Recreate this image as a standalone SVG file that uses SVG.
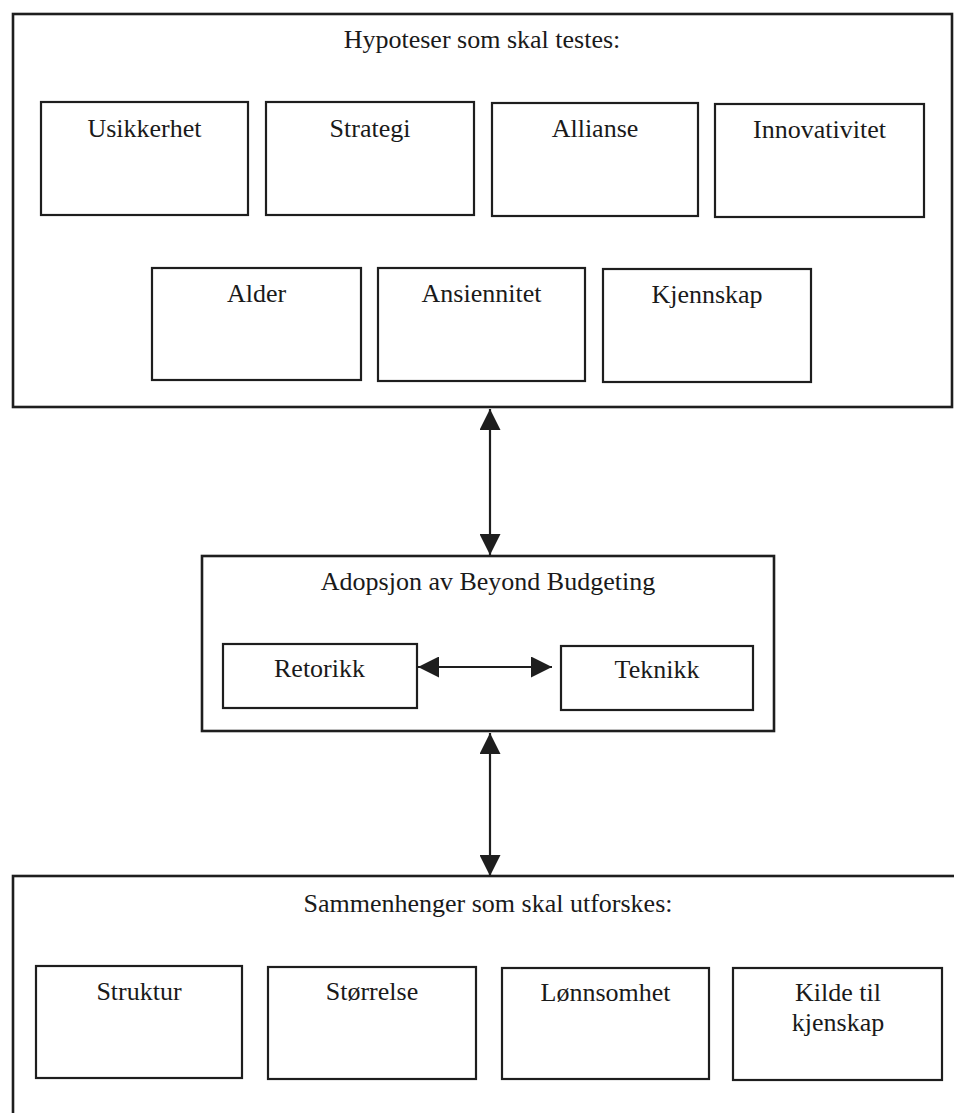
<svg xmlns="http://www.w3.org/2000/svg" width="954" height="1113" viewBox="0 0 954 1113">
<style>
  .box{fill:none;stroke:#1e1e1e;stroke-width:2.2}
  .outer{fill:none;stroke:#1e1e1e;stroke-width:2.6}
  .t{font-family:"Liberation Serif","Times New Roman",serif;font-size:26px;fill:#1a1a1a;text-anchor:middle}
  .conn{stroke:#1e1e1e;stroke-width:2.2;fill:none}
</style>
<defs>
  <marker id="ah" viewBox="0 0 20 20" refX="20" refY="10" markerWidth="21" markerHeight="21" markerUnits="userSpaceOnUse" orient="auto-start-reverse">
    <path d="M0,0 L20,10 L0,20 z" fill="#1e1e1e"/>
  </marker>
</defs>
<rect width="954" height="1113" fill="#ffffff"/>

<g id="hypoteser">
  <rect class="outer" x="13" y="14" width="939" height="393"/>
  <text class="t" x="482" y="48">Hypoteser som skal testes:</text>
</g>
<g id="usikkerhet"><rect class="box" x="41" y="102" width="207" height="113"/><text class="t" x="144.5" y="137">Usikkerhet</text></g>
<g id="strategi"><rect class="box" x="266" y="102" width="208" height="113"/><text class="t" x="370" y="137">Strategi</text></g>
<g id="allianse"><rect class="box" x="492" y="103" width="206" height="113"/><text class="t" x="595" y="137">Allianse</text></g>
<g id="innovativitet"><rect class="box" x="715" y="104" width="209" height="113"/><text class="t" x="819.5" y="138">Innovativitet</text></g>
<g id="alder"><rect class="box" x="152" y="268" width="209" height="112"/><text class="t" x="256.5" y="302">Alder</text></g>
<g id="ansiennitet"><rect class="box" x="378" y="268" width="207" height="113"/><text class="t" x="481.5" y="302">Ansiennitet</text></g>
<g id="kjennskap"><rect class="box" x="603" y="269" width="208" height="113"/><text class="t" x="707" y="303">Kjennskap</text></g>

<g id="adopsjon">
  <rect class="outer" x="202" y="556" width="572" height="175"/>
  <text class="t" x="488" y="590">Adopsjon av Beyond Budgeting</text>
</g>
<g id="retorikk"><rect class="box" x="223" y="644" width="194" height="64"/><text class="t" x="319.5" y="677">Retorikk</text></g>
<g id="teknikk"><rect class="box" x="561" y="646" width="192" height="64"/><text class="t" x="657" y="678">Teknikk</text></g>

<g id="sammenhenger">
  <rect class="outer" x="13" y="876" width="960" height="260"/>
  <text class="t" x="488" y="912">Sammenhenger som skal utforskes:</text>
</g>
<g id="struktur"><rect class="box" x="36" y="966" width="206" height="112"/><text class="t" x="139" y="1000">Struktur</text></g>
<g id="storrelse"><rect class="box" x="268" y="967" width="208" height="112"/><text class="t" x="372" y="1000">Størrelse</text></g>
<g id="lonnsomhet"><rect class="box" x="502" y="968" width="207" height="111"/><text class="t" x="605.5" y="1001">Lønnsomhet</text></g>
<g id="kilde"><rect class="box" x="733" y="968" width="209" height="112"/><text class="t" x="838" y="1001">Kilde til</text><text class="t" x="838" y="1031">kjenskap</text></g>

<g id="connectors">
  <line class="conn" x1="490" y1="409" x2="490" y2="555" marker-start="url(#ah)" marker-end="url(#ah)"/>
  <line class="conn" x1="418" y1="667" x2="552" y2="667" marker-start="url(#ah)" marker-end="url(#ah)"/>
  <line class="conn" x1="490" y1="733" x2="490" y2="876" marker-start="url(#ah)" marker-end="url(#ah)"/>
</g>
</svg>
